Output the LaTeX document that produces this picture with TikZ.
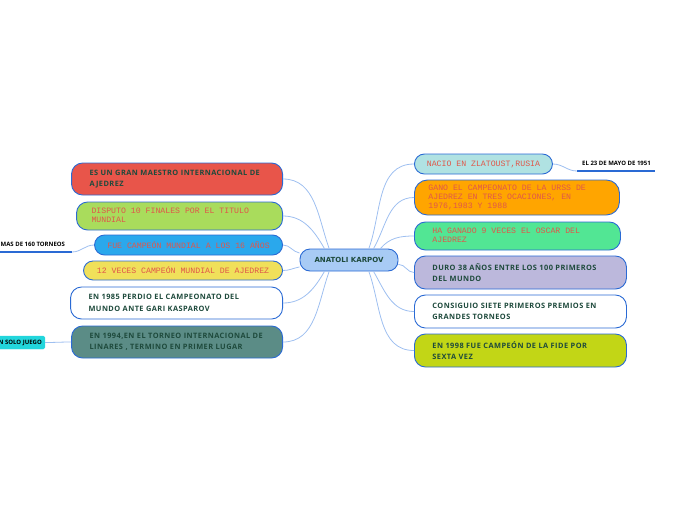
\documentclass[tikz,border=0pt]{standalone}
\usepackage{fontspec}
\newfontfamily\sansb{Open Sans}[BoldFont={Open Sans Bold},LetterSpace=6]
\newfontfamily\sanss{Open Sans}[BoldFont={Open Sans Bold}]
\newfontfamily\dejab{DejaVu Sans}
\newfontfamily\mono{Liberation Mono}
\newcommand{\monofont}{\mono\fontsize{8.2}{9}\selectfont}
\newcommand{\mlines}[2]{\makebox[#1][l]{\begin{tabular}{@{}l@{}}#2\end{tabular}}}
\definecolor{bordc}{HTML}{2A6AD4}
\definecolor{connc}{HTML}{9EBFF0}
\definecolor{txtg}{HTML}{1E4A3C}
\definecolor{txtr}{HTML}{E0574A}
\definecolor{cred}{HTML}{E8554A}
\definecolor{cgreen}{HTML}{A9DC5C}
\definecolor{cblue}{HTML}{2AA8EC}
\definecolor{cyel}{HTML}{F0E05A}
\definecolor{cteal}{HTML}{5B8C86}
\definecolor{ccyan}{HTML}{B0E2E2}
\definecolor{corange}{HTML}{FFA500}
\definecolor{cmint}{HTML}{52E694}
\definecolor{clav}{HTML}{BCB8DC}
\definecolor{cyg}{HTML}{C2D616}
\definecolor{ccent}{HTML}{A8CBF5}
\definecolor{caqua}{HTML}{22D6DC}
\begin{document}
\begin{tikzpicture}[x=1pt,y=-1pt,
  box/.style={draw=bordc,line width=0.9pt,rounded corners=11pt,inner ysep=0pt},
  sbox/.style={box,align=left,inner xsep=18pt,font=\sansb\bfseries\fontsize{7.4}{11.5}\selectfont,text=txtg},
  mbox/.style={box,inner xsep=15pt,font=\monofont,text=txtr},
  conn/.style={draw=connc,line width=0.8pt},
  uline/.style={draw=bordc,line width=1.2pt},
  small/.style={font=\sanss\bfseries\fontsize{6}{7}\selectfont,text=black,inner sep=0pt}]
\useasboundingbox (0,0) rectangle (696,520);
% center
\node[draw=bordc,line width=0.9pt,fill=ccent,rounded corners=10pt,minimum width=98pt,minimum height=22pt,inner sep=0pt,
  font=\dejab\bfseries\fontsize{7}{8}\selectfont,text=txtg] (c) at (349,260) {ANATOLI KARPOV};
% left
\node[sbox,fill=cred,text width=175pt,minimum height=32pt,anchor=east] (l1) at (283,179) {ES UN GRAN MAESTRO INTERNACIONAL DE\\AJEDREZ};
\node[mbox,fill=cgreen,minimum height=28pt,anchor=east] (l2) at (283,216) {\mlines{176pt}{DISPUTO 10 FINALES POR EL TITULO\\MUNDIAL}};
\node[mbox,fill=cblue,inner xsep=5pt,minimum width=188pt,minimum height=20pt,anchor=east,rounded corners=10pt] (l3) at (283,245) {FUE CAMPEÓN MUNDIAL A LOS 16 AÑOS};
\node[mbox,fill=cyel,inner xsep=5pt,minimum width=199pt,minimum height=19pt,anchor=east,rounded corners=9.5pt] (l4) at (283,270.5) {12 VECES CAMPEÓN MUNDIAL DE AJEDREZ};
\node[sbox,fill=white,text width=176pt,minimum height=32pt,anchor=east] (l5) at (283,303) {EN 1985 PERDIO EL CAMPEONATO DEL\\MUNDO ANTE GARI KASPAROV};
\node[sbox,fill=cteal,text width=175pt,minimum height=32pt,anchor=east] (l6) at (283,342) {EN 1994,EN EL TORNEO INTERNACIONAL DE\\LINARES , TERMINO EN PRIMER LUGAR};
% right
\node[mbox,fill=ccyan,inner xsep=5pt,minimum width=138pt,minimum height=20pt,anchor=west,rounded corners=10pt] (r1) at (414,164) {NACIO EN ZLATOUST,RUSIA};
\node[mbox,fill=corange,inner xsep=14pt,minimum height=35pt,anchor=west,rounded corners=13pt] (r2) at (414,197.5) {\mlines{177pt}{GANO EL CAMPEONATO DE LA URSS DE\\AJEDREZ EN TRES OCACIONES, EN\\1976,1983 Y 1988}};
\node[mbox,fill=cmint,inner xsep=18pt,minimum height=28pt,anchor=west] (r3) at (414,236) {\mlines{170pt}{HA GANADO 9 VECES EL OSCAR DEL\\AJEDREZ}};
\node[sbox,fill=clav,text width=176pt,minimum height=33pt,anchor=west] (r4) at (414,272.5) {DURO 38 AÑOS ENTRE LOS 100 PRIMEROS\\DEL MUNDO};
\node[sbox,fill=white,text width=176pt,minimum height=33pt,anchor=west] (r5) at (414,311.5) {CONSIGUIO SIETE PRIMEROS PREMIOS EN\\GRANDES TORNEOS};
\node[sbox,fill=cyg,text width=176pt,minimum height=33pt,anchor=west] (r6) at (414,350.5) {EN 1998 FUE CAMPEÓN DE LA FIDE POR\\SEXTA VEZ};
% outer items
\node[small,anchor=west] (t1) at (0.5,244) {MAS DE 160 TORNEOS};
\coordinate (t1a) at (0,252);
\coordinate (t1b) at (72,252);
\draw[uline] (t1a) -- (t1b);
\node[small,anchor=west] (t2) at (582,163) {EL 23 DE MAYO DE 1951};
\coordinate (t2a) at (577,171);
\coordinate (t2b) at (655,171);
\draw[uline] (t2a) -- (t2b);
\node[small,fill=caqua,draw=caqua,rounded corners=1.5pt,minimum height=13pt,inner xsep=3pt,anchor=east] (t3) at (45,342.5) {N SOLO JUEGO};
% connectors
\draw[conn] (c.150) to[out=110,in=0] (l1.east);
\draw[conn] (c.155) to[out=120,in=0] (l2.east);
\draw[conn] (c.172) to[out=170,in=0] (l3.east);
\draw[conn] (c.188) to[out=190,in=0] (l4.east);
\draw[conn] (c.205) to[out=240,in=0] (l5.east);
\draw[conn] (c.210) to[out=250,in=0] (l6.east);
\draw[conn] (c.30) to[out=70,in=180] (r1.west);
\draw[conn] (c.25) to[out=60,in=180] (r2.west);
\draw[conn] (c.20) to[out=50,in=180] (r3.west);
\draw[conn] (c.355) to[out=0,in=180] (r4.west);
\draw[conn] (c.-25) to[out=-60,in=180] (r5.west);
\draw[conn] (c.-30) to[out=-70,in=180] (r6.west);
\draw[conn] (t1b) to[out=0,in=180] (l3.west);
\draw[conn] (r1.east) to[out=0,in=180] (t2a);
\draw[conn] (t3.east) to[out=0,in=180] (l6.west);
\end{tikzpicture}
\end{document}
